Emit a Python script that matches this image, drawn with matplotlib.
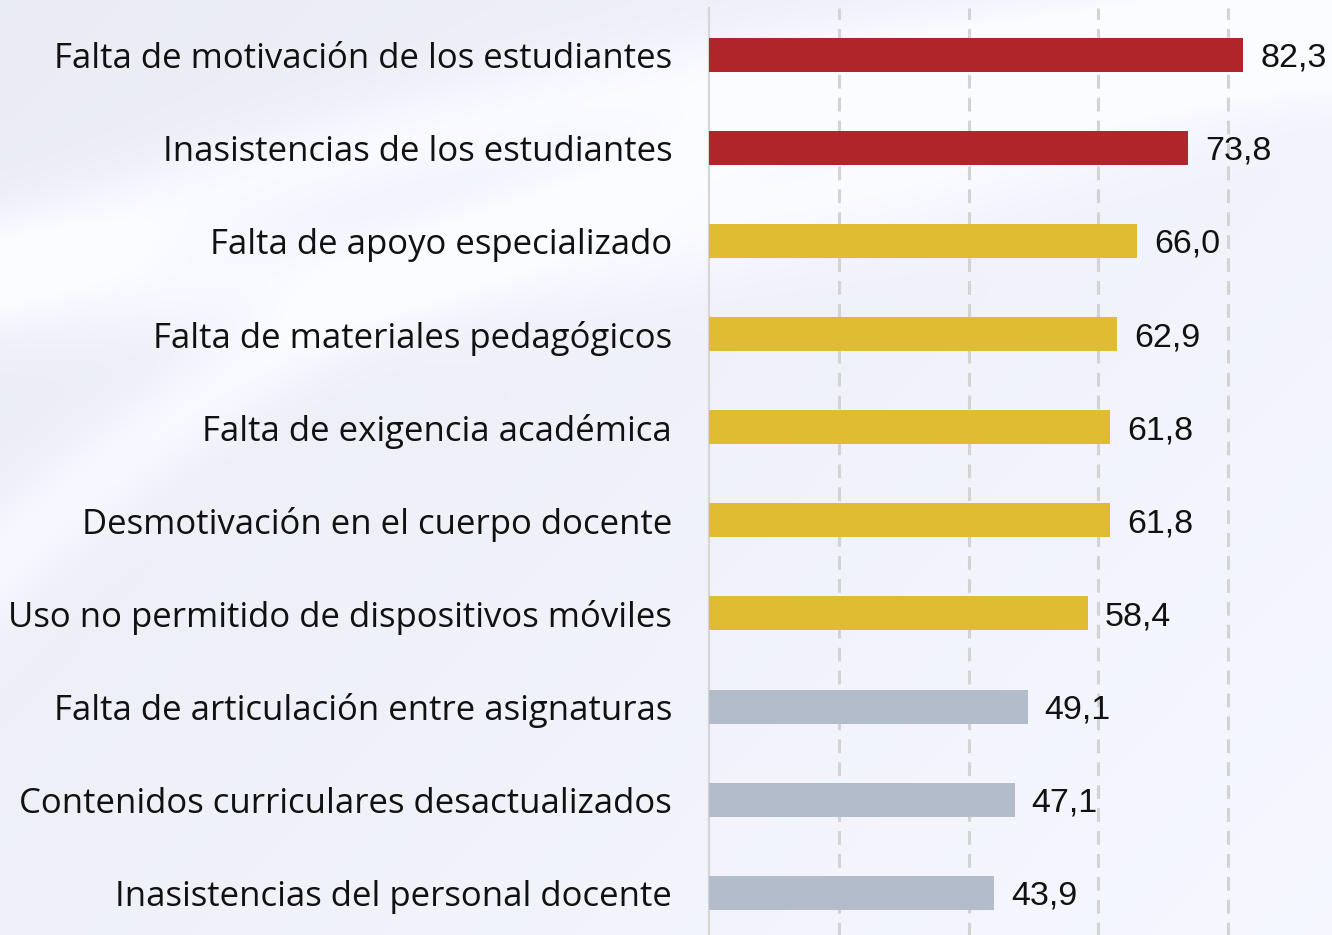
import numpy as np
import matplotlib
matplotlib.use("Agg")
import matplotlib.pyplot as plt

categories = [
    "Falta de motivación de los estudiantes",
    "Inasistencias de los estudiantes",
    "Falta de apoyo especializado",
    "Falta de materiales pedagógicos",
    "Falta de exigencia académica",
    "Desmotivación en el cuerpo docente",
    "Uso no permitido de dispositivos móviles",
    "Falta de articulación entre asignaturas",
    "Contenidos curriculares desactualizados",
    "Inasistencias del personal docente",
]
values = [82.3, 73.8, 66.0, 62.9, 61.8, 61.8, 58.4, 49.1, 47.1, 43.9]
groups = ["alto", "alto", "medio", "medio", "medio", "medio", "medio", "bajo", "bajo", "bajo"]
group_colors = {"alto": "#B0252A", "medio": "#E0BC33", "bajo": "#B3BCCB"}
grid_ticks = [20, 40, 60, 80]

W, H = 1332, 935
fig = plt.figure(figsize=(W / 100, H / 100), dpi=100)

# background
bg = fig.add_axes([0, 0, 1, 1])
bg.set_axis_off()
yy, xx = np.mgrid[0:1:400j, 0:1:570j]
base = 0.935 + 0.045 * (xx * 0.6 + yy * 0.4)
for cx, cy, r, w, a in [(0.9, 1.9, 1.85, 0.05, 0.045), (0.1, -1.2, 1.5, 0.06, 0.04), (1.2, 1.5, 1.5, 0.04, 0.04)]:
    d = np.sqrt((xx - cx) ** 2 + (yy - cy) ** 2)
    base += a * np.exp(-((d - r) / w) ** 2)
base = np.clip(base, 0, 1)
img = np.dstack([base * 0.985, base * 0.99, np.clip(base * 1.01 + 0.01, 0, 1)])
bg.imshow(img, extent=[0, 1, 0, 1], aspect="auto", origin="upper", interpolation="bilinear")
bg.set_xlim(0, 1)
bg.set_ylim(0, 1)

x0 = 709 / W
px_per_unit = 6.49
xmax = (W - 709) / px_per_unit
ax = fig.add_axes([x0, -4.5 / H, 1 - x0, 931.5 / H])
ax.patch.set_alpha(0)
y = np.arange(len(categories))
colors = [group_colors[g] for g in groups]
ax.barh(y, values, height=0.365, color=colors, zorder=3)
ax.set_ylim(len(categories) - 0.5, -0.5)
ax.set_xlim(0, xmax)
for gx in grid_ticks:
    ax.axvline(gx, color="#D3D3D3", lw=2.2, ls=(0, (4.5, 3)), zorder=1)
for s in ["top", "right", "bottom"]:
    ax.spines[s].set_visible(False)
ax.spines["left"].set_color("#D6D6D6")
ax.spines["left"].set_linewidth(1.6)
ax.set_xticks([])
ax.set_yticks(y)
ax.set_yticklabels(categories, fontsize=25, family="Open Sans", color="#111111")
for t in ax.get_yticklabels():
    t.set_verticalalignment("center_baseline")
ax.tick_params(axis="y", length=0, pad=26.5)
for yi, v in zip(y, values):
    ax.text(v + 17 / px_per_unit, yi, f"{v:.1f}".replace(".", ","), va="center_baseline", ha="left",
            fontsize=24.5, family="Liberation Sans", color="#111111", zorder=4)

fig.savefig("out.png", dpi=100)
